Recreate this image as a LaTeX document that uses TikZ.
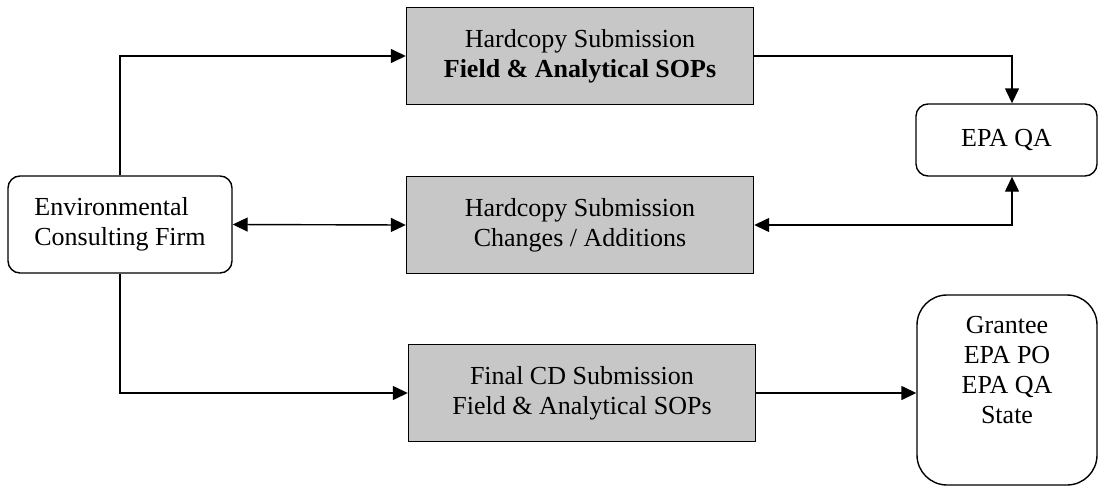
\documentclass[tikz,border=0pt]{standalone}
\usepackage{fontspec}
\setmainfont{Liberation Serif}
\usetikzlibrary{arrows.meta,calc}
\tikzset{
  every node/.style={font=\fontsize{26}{30}\selectfont, align=center, inner sep=0pt},
  graybox/.style={draw, line width=1.4pt, fill=black!22, minimum width=347pt, minimum height=97pt},
  roundbox/.style={draw, line width=1.4pt, fill=white, rounded corners=12pt},
  conn/.style={line width=1.4pt, -{Triangle[length=15pt,width=14pt]}},
  dconn/.style={line width=1.4pt, {Triangle[length=15pt,width=14pt]}-{Triangle[length=15pt,width=14pt]}}
}
\begin{document}
\begin{tikzpicture}[x=1pt,y=-1pt]
\useasboundingbox (0,0) rectangle (1099,487);
\node[roundbox, minimum width=224pt, minimum height=97pt, align=left] (firm) at (120,224.5) {Environmental\\Consulting Firm};
\node[graybox] (top) at (580,56) {Hardcopy Submission\\\textbf{Field \& Analytical SOPs}};
\node[graybox] (mid) at (580,225) {Hardcopy Submission\\Changes / Additions};
\node[graybox] (bot) at (582,393) {Final CD Submission\\Field \& Analytical SOPs};
\node[roundbox, minimum width=181pt, minimum height=72pt] (qa) at (1006.5,140) {EPA QA};
\node[roundbox, rounded corners=30pt, minimum width=180pt, minimum height=190pt] (recv) at (1007,390) {};
\node[anchor=north] (recvtext) at (1007,316) {Grantee\\EPA PO\\EPA QA\\State};
\coordinate (qx) at (1012,0);
\draw[conn] (firm.north) |- (top.west);
\draw[conn] (top.east) -| (qa.north -| qx);
\draw[dconn] (firm.east) -- (mid.west);
\draw[dconn] (mid.east) -| (qa.south -| qx);
\draw[conn] (firm.south) |- (bot.west);
\draw[conn] (bot.east) -- (bot.east -| recv.west);
\end{tikzpicture}
\end{document}
